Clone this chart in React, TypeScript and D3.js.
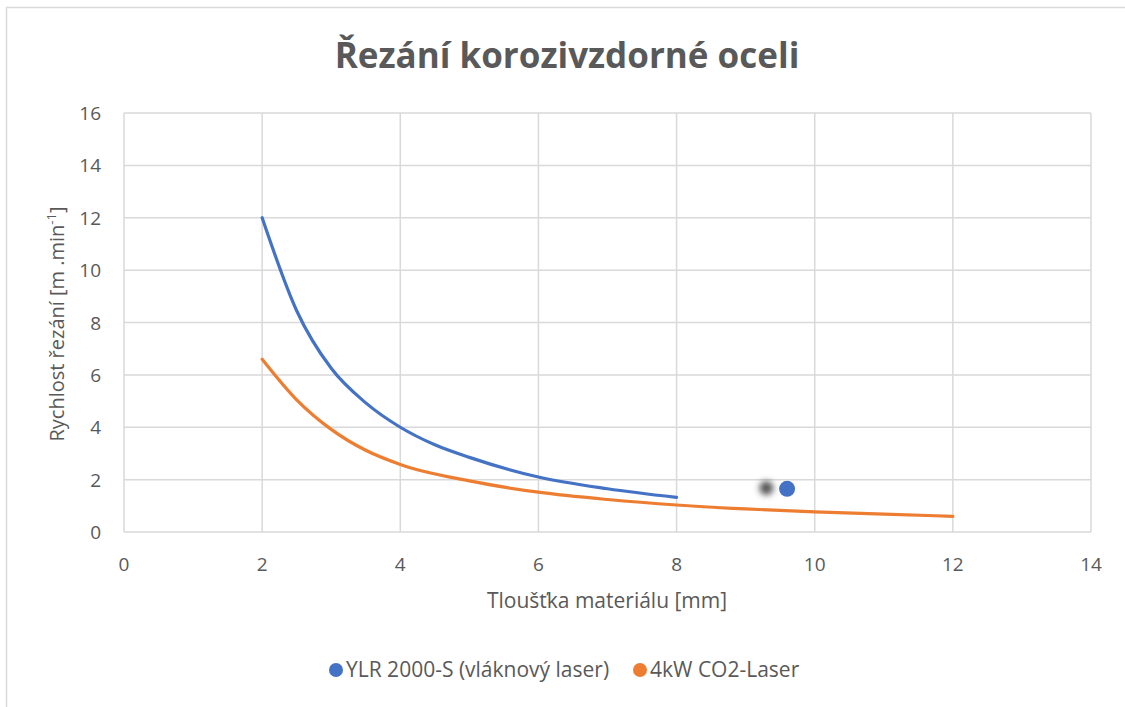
import React from 'react';
import * as d3 from 'd3';

const TITLE = 'Řezání korozivzdorné oceli';
const X_LABEL = 'Tloušťka materiálu [mm]';

// Fiber laser curve
const fiberX = [2, 2.5, 3, 3.5, 4, 4.5, 5, 6, 7, 8];
const fiberY = [12, 8.45, 6.25, 4.93, 4.0, 3.33, 2.85, 2.1, 1.65, 1.32];
// Single fiber laser point with the grey ghost beside it
const fiberPoint = { x: 9.6, y: 1.65 };
const ghostPoint = { x: 9.3, y: 1.68 };

// CO2 laser curve
const co2X = [2, 2.5, 3, 3.5, 4, 5, 6, 7, 8, 9, 10, 11, 12];
const co2Y = [6.6, 5.05, 3.92, 3.12, 2.58, 1.95, 1.52, 1.24, 1.03, 0.88, 0.77, 0.68, 0.6];

const xTicks = [0, 2, 4, 6, 8, 10, 12, 14];
const yTicks = [0, 2, 4, 6, 8, 10, 12, 14, 16];

const seriesNames = ['YLR 2000-S (vláknový laser)', '4kW CO2-Laser'];
const seriesColors = ['#4472C4', '#ED7D31'];

const W = 1125;
const H = 707;
const FONT = '"Open Sans", "Noto Sans", sans-serif';
const TEXT = '#595959';
const GRID = '#d9d9d9';

const App: React.FC = () => {
  const x = d3.scaleLinear().domain([0, 14]).range([124, 1091]);
  const y = d3.scaleLinear().domain([0, 16]).range([532, 113]);

  const line = d3.line<[number, number]>()
    .x(d => x(d[0]))
    .y(d => y(d[1]))
    .curve(d3.curveMonotoneX);

  const fiber = fiberX.map((v, i) => [v, fiberY[i]] as [number, number]);
  const co2 = co2X.map((v, i) => [v, co2Y[i]] as [number, number]);

  return (
    <svg
      width={W}
      height={H}
      style={{ position: 'absolute', left: 0, top: 0, background: '#fff' }}
      fontFamily={FONT}
    >
      <defs>
        <filter id="blur" x="-100%" y="-100%" width="300%" height="300%">
          <feGaussianBlur stdDeviation="3" />
        </filter>
      </defs>

      {/* chart frame, runs off the right and bottom */}
      <rect x={6.5} y={7.5} width={1130} height={720} fill="#fff" stroke={GRID} strokeWidth={1.5} />

      <text x={567} y={68} textAnchor="middle" fontSize={35} fontWeight="bold" fill={TEXT}>
        {TITLE}
      </text>

      {/* grid */}
      {yTicks.map(t => (
        <line key={'gy' + t} x1={x(0)} x2={x(14)} y1={y(t)} y2={y(t)} stroke={GRID} strokeWidth={1.5} />
      ))}
      {xTicks.map(t => (
        <line key={'gx' + t} x1={x(t)} x2={x(t)} y1={y(0)} y2={y(16)} stroke={GRID} strokeWidth={1.5} />
      ))}

      {/* tick labels */}
      {yTicks.map(t => (
        <text key={'ly' + t} x={101} y={y(t) + 7} textAnchor="end" fontSize={19} fill={TEXT}>
          {t}
        </text>
      ))}
      {xTicks.map(t => (
        <text key={'lx' + t} x={x(t)} y={571} textAnchor="middle" fontSize={19} fill={TEXT}>
          {t}
        </text>
      ))}

      {/* axis titles */}
      <text x={607} y={608} textAnchor="middle" fontSize={21} fill={TEXT}>
        {X_LABEL}
      </text>
      <text transform="translate(64,324) rotate(-90)" textAnchor="middle" fontSize={20} fill={TEXT}>
        Rychlost řezání [m .min
        <tspan fontSize={13} dy={-8}>-1</tspan>
        <tspan dy={8}>]</tspan>
      </text>

      {/* series */}
      <path d={line(co2) || undefined} fill="none" stroke={seriesColors[1]} strokeWidth={3.2} strokeLinecap="round" />
      <path d={line(fiber) || undefined} fill="none" stroke={seriesColors[0]} strokeWidth={3.2} strokeLinecap="round" />

      <circle cx={x(ghostPoint.x)} cy={y(ghostPoint.y)} r={7} fill="#555" filter="url(#blur)" />
      <circle cx={x(fiberPoint.x)} cy={y(fiberPoint.y)} r={8} fill={seriesColors[0]} />

      {/* legend */}
      <circle cx={336} cy={670} r={7} fill={seriesColors[0]} />
      <text x={346} y={677} fontSize={21} fill={TEXT}>{seriesNames[0]}</text>
      <circle cx={640} cy={670} r={7} fill={seriesColors[1]} />
      <text x={650} y={677} fontSize={21} fill={TEXT}>{seriesNames[1]}</text>
    </svg>
  );
};

export default App;
